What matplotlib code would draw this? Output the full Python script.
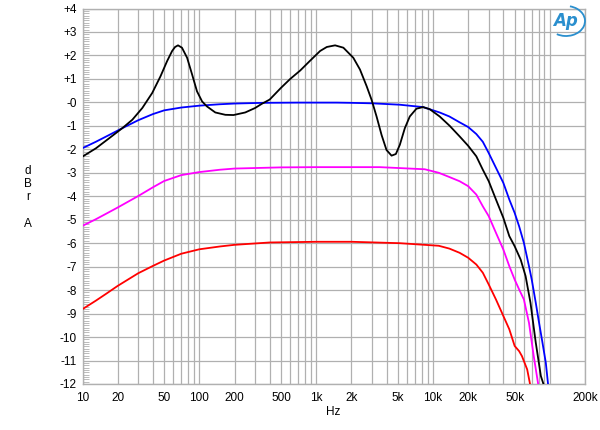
import matplotlib
matplotlib.use("Agg")
import matplotlib.pyplot as plt
from matplotlib.patches import Arc
import numpy as np

plt.rcParams['font.family'] = ['Liberation Sans', 'DejaVu Sans']

# frequency response readings (Hz, dBrA)
blue_f = [10, 13, 16.9, 21.9, 30, 40, 50, 70, 100, 150, 200, 350, 700, 1500, 2000, 3000,
          5200, 8200, 11400, 13800, 16900, 20000, 23500, 26700, 30000, 34600, 40000, 45000,
          50000, 54600, 60000, 66300, 70000, 75800, 80000, 86500, 92400, 97000]
blue_db = [-1.95, -1.68, -1.39, -1.1, -0.76, -0.5, -0.34, -0.22, -0.14, -0.08, -0.05, -0.02,
           -0.01, -0.01, -0.02, -0.04, -0.1, -0.2, -0.43, -0.6, -0.85, -1.05, -1.35, -1.68,
           -2.16, -2.79, -3.43, -4.14, -4.71, -5.28, -5.99, -6.98, -7.55, -8.54, -9.25,
           -10.24, -11.1, -12.1]

black_f = [10, 13, 16.9, 21.9, 26.7, 32.5, 39.5, 46.5, 53, 58.5, 62, 65.7, 71, 78.6, 86.7,
           95.5, 105.6, 116, 137, 167, 196, 247, 300, 343, 400, 500, 600, 731, 889, 1081,
           1233, 1452, 1710, 2080, 2371, 2704, 2981, 3288, 3630, 4000, 4419, 4810, 5200,
           5740, 6330, 7210, 8220, 9370, 11400, 13900, 16900, 20000, 23500, 26700, 30000,
           34600, 40000, 45000, 50000, 56300, 62000, 68300, 75800, 83800, 89500]
black_db = [-2.31, -1.96, -1.53, -1.1, -0.74, -0.24, 0.4, 1.11, 1.76, 2.19, 2.36, 2.43, 2.33,
            1.9, 1.19, 0.47, 0.04, -0.17, -0.43, -0.53, -0.54, -0.43, -0.24, -0.06, 0.12,
            0.62, 1.0, 1.36, 1.78, 2.19, 2.36, 2.43, 2.33, 1.9, 1.4, 0.69, 0.11, -0.6, -1.39,
            -2.03, -2.27, -2.2, -1.81, -1.1, -0.6, -0.27, -0.2, -0.29, -0.6, -1.0, -1.45,
            -1.85, -2.3, -2.87, -3.36, -4.14, -4.92, -5.7, -6.13, -6.7, -7.4, -8.54, -10.24,
            -11.66, -12.1]

magenta_f = [10, 13, 16, 20, 30, 40, 50, 70, 100, 150, 200, 500, 1000, 3500, 5200, 8500,
             11200, 13800, 16900, 20000, 23500, 26700, 30000, 34600, 40000, 45000, 50000,
             54600, 60000, 66300, 72800, 77500, 80000]
magenta_db = [-5.26, -4.98, -4.74, -4.48, -3.99, -3.62, -3.35, -3.1, -2.97, -2.87, -2.82,
              -2.77, -2.76, -2.76, -2.8, -2.85, -3.0, -3.18, -3.36, -3.57, -3.93, -4.43,
              -4.85, -5.56, -6.27, -6.98, -7.55, -7.97, -8.4, -9.39, -10.81, -11.66, -12.1]

red_f = [10, 13, 16, 20, 30, 40, 50, 70, 100, 150, 200, 400, 1000, 2000, 5200, 11200, 13800,
         16900, 20000, 23500, 26700, 30000, 34600, 40000, 45000, 50000, 54600, 57700, 64000,
         68300]
red_db = [-8.81, -8.45, -8.15, -7.82, -7.28, -6.97, -6.74, -6.45, -6.26, -6.14, -6.07, -5.97,
          -5.94, -5.94, -6.0, -6.11, -6.23, -6.41, -6.62, -6.91, -7.26, -7.76, -8.4, -9.1,
          -9.67, -10.38, -10.6, -10.81, -11.38, -12.1]

x_labels = {10: '10', 20: '20', 50: '50', 100: '100', 200: '200', 500: '500', 1000: '1k',
            2000: '2k', 5000: '5k', 10000: '10k', 20000: '20k', 50000: '50k', 200000: '200k'}
y_ticks = list(range(-12, 5))

fig = plt.figure(figsize=(6, 4.3), dpi=100)
ax = fig.add_axes([82.5 / 600, 1 - 384 / 430, (585 - 82.5) / 600, (384 - 8.5) / 430])

grid_c = '#b0b0b0'
grid_pos = [m * 10 ** d for d in range(1, 6) for m in range(1, 10) if m * 10 ** d <= 200000]
for g in grid_pos:
    ax.axvline(g, color=grid_c, lw=0.9, zorder=0)
for y in y_ticks:
    ax.axhline(y, color=grid_c, lw=0.9, zorder=0)

ax.plot(red_f, red_db, color='#ff0000', lw=1.3, zorder=3)
ax.plot(magenta_f, magenta_db, color='#ff00ff', lw=1.3, zorder=3)
ax.plot(blue_f, blue_db, color='#0000ff', lw=1.3, zorder=4)
ax.plot(black_f, black_db, color='black', lw=1.3, zorder=5)

ax.set_xscale('log')
ax.set_xlim(10, 200000)
ax.set_ylim(-12, 4)

ax.xaxis.set_minor_locator(matplotlib.ticker.NullLocator())
ax.set_xticks(list(x_labels.keys()))
ax.set_xticklabels(list(x_labels.values()))
ax.set_yticks(y_ticks)
ax.set_yticklabels([('+%d' % v) if v > 0 else ('-%d' % abs(v)) for v in y_ticks])
ax.set_yticks(np.arange(-12, 4.01, 0.1), minor=True)
ax.tick_params(axis='both', which='major', length=0, labelsize=8.5, colors='black')
ax.tick_params(axis='x', pad=6)
ax.tick_params(axis='y', pad=4)
ax.tick_params(axis='y', which='minor', direction='in', length=4, width=0.6, color=grid_c)

for s in ax.spines.values():
    s.set_color(grid_c)
    s.set_linewidth(1.0)

fig.text(333 / 600, 1 - 412 / 430, 'Hz', ha='center', va='center', fontsize=8.5)
for txt, ypx in [('d', 171), ('B', 184), ('r', 197), ('A', 224)]:
    fig.text(28 / 600, 1 - ypx / 430, txt, ha='center', va='center', fontsize=8.5)

# AP logo
logo_c = '#2a8fce'
fig.text(565 / 600, 1 - 21 / 430, 'Ap', ha='center', va='center', fontsize=12,
         style='italic', weight='bold', color=logo_c, family='DejaVu Sans')
fig.patches.append(Arc((5.66, 4.3 - 0.21), 0.38, 0.30, theta1=-125, theta2=75,
                       transform=fig.dpi_scale_trans, color=logo_c, lw=1.3))

fig.savefig('out.png', dpi=100)
